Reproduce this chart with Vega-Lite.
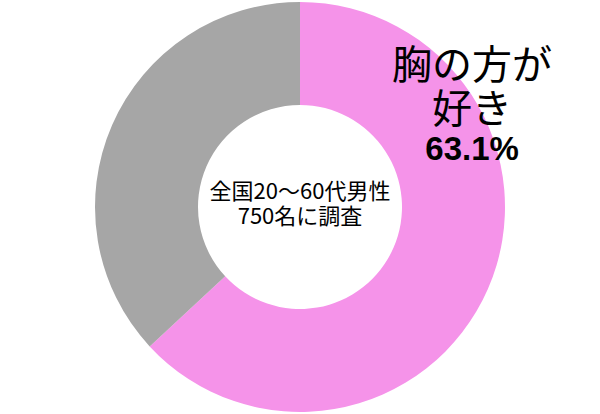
{
  "$schema": "https://vega.github.io/schema/vega-lite/v6.json",
  "width": 600,
  "height": 414,
  "autosize": {"type": "fit", "contains": "padding"},
  "padding": 0,
  "background": "white",
  "config": {"view": {"stroke": null}, "font": "Noto Sans CJK JP"},
  "data": {
    "values": [
      {"i": 1, "group": "胸の方が好き", "pct": 63.1, "line1": "胸の方が", "line2": "好き", "label": "63.1%"},
      {"i": 2, "group": "お尻の方が好き", "pct": 36.9, "line1": "", "line2": "", "label": "36.9%"}
    ]
  },
  "layer": [
    {
      "mark": {"type": "arc", "radius": 205, "radius2": 102},
      "encoding": {
        "theta": {"field": "pct", "type": "quantitative", "stack": true},
        "order": {"field": "i", "type": "quantitative"},
        "color": {
          "field": "group",
          "type": "nominal",
          "scale": {"domain": ["胸の方が好き", "お尻の方が好き"], "range": ["#f593e9", "#a6a6a6"]},
          "legend": null
        }
      }
    },
    {
      "transform": [{"filter": "datum.i == 1"}],
      "mark": {"type": "text", "radius": 197, "thetaOffset": -0.92, "dy": -44, "fontSize": 40, "baseline": "middle", "align": "center", "color": "black"},
      "encoding": {
        "theta": {"field": "pct", "type": "quantitative", "stack": true},
        "order": {"field": "i", "type": "quantitative"},
        "text": {"field": "line1"}
      }
    },
    {
      "transform": [{"filter": "datum.i == 1"}],
      "mark": {"type": "text", "radius": 197, "thetaOffset": -0.92, "dy": 0, "fontSize": 40, "baseline": "middle", "align": "center", "color": "black"},
      "encoding": {
        "theta": {"field": "pct", "type": "quantitative", "stack": true},
        "order": {"field": "i", "type": "quantitative"},
        "text": {"field": "line2"}
      }
    },
    {
      "transform": [{"filter": "datum.i == 1"}],
      "mark": {"type": "text", "radius": 197, "thetaOffset": -0.92, "dy": 39, "fontSize": 33, "fontWeight": "bold", "font": "Liberation Sans", "baseline": "middle", "align": "center", "color": "black"},
      "encoding": {
        "theta": {"field": "pct", "type": "quantitative", "stack": true},
        "order": {"field": "i", "type": "quantitative"},
        "text": {"field": "label"}
      }
    },
    {
      "data": {"values": [{"note": ["全国20～60代男性", "750名に調査"]}]},
      "mark": {"type": "text", "fontSize": 22, "lineHeight": 25, "dy": -15, "baseline": "middle", "align": "center", "color": "black"},
      "encoding": {
        "text": {"field": "note"}
      }
    }
  ]
}
